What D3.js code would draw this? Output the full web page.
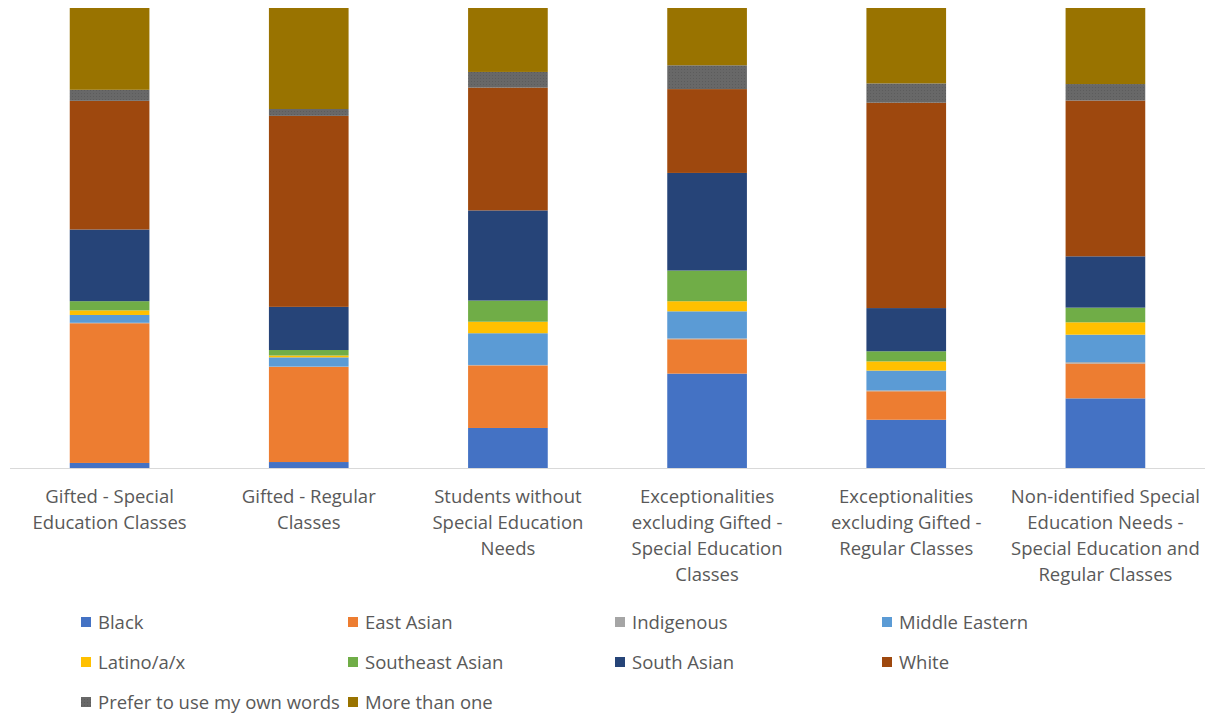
<!DOCTYPE html>
<html>
<head>
<meta charset="utf-8">
<script src="https://cdn.jsdelivr.net/npm/d3@7"></script>
<style>
  body { margin: 0; background: #fff; }
  svg { display: block; font-family: "Open Sans", "Noto Sans", sans-serif; }
</style>
</head>
<body>
<svg width="1220" height="716"></svg>
<script>
// categories (x axis)
const categories = [
  "Gifted - Special Education Classes",
  "Gifted - Regular Classes",
  "Students without Special Education Needs",
  "Exceptionalities excluding Gifted - Special Education Classes",
  "Exceptionalities excluding Gifted - Regular Classes",
  "Non-identified Special Education Needs - Special Education and Regular Classes"
];
// wrapped label lines, as shown under each column
const categoryLines = [
  ["Gifted - Special", "Education Classes"],
  ["Gifted - Regular", "Classes"],
  ["Students without", "Special Education", "Needs"],
  ["Exceptionalities", "excluding Gifted -", "Special Education", "Classes"],
  ["Exceptionalities", "excluding Gifted -", "Regular Classes"],
  ["Non-identified Special", "Education Needs -", "Special Education and", "Regular Classes"]
];

const seriesNames = ["Black", "East Asian", "Indigenous", "Middle Eastern", "Latino/a/x",
  "Southeast Asian", "South Asian", "White", "Prefer to use my own words", "More than one"];
const seriesColors = ["#4472C4", "#ED7D31", "#A5A5A5", "#5B9BD5", "#FFC000",
  "#70AD47", "#264478", "#9E480E", "#666666", "#997300"];

// percentages per series, one value per category
const black        = [1.1, 1.3, 8.7, 20.6, 10.5, 15.2];
const eastAsian    = [30.4, 20.7, 13.6, 7.5, 6.2, 7.6];
const indigenous   = [0.1, 0.1, 0.1, 0.2, 0.2, 0.3];
const middleEast   = [1.7, 2.0, 6.9, 5.9, 4.3, 6.0];
const latino       = [1.0, 0.4, 2.5, 2.2, 2.0, 2.7];
const southeast    = [2.0, 1.2, 4.6, 6.7, 2.2, 3.2];
const southAsian   = [15.6, 9.4, 19.6, 21.3, 9.4, 11.2];
const white        = [28.0, 41.6, 26.7, 18.3, 44.7, 34.0];
const ownWords     = [2.4, 1.5, 3.4, 5.2, 4.2, 3.6];
const moreThanOne  = [17.8, 22.0, 13.9, 12.5, 16.4, 16.6];

const seriesValues = [black, eastAsian, indigenous, middleEast, latino,
  southeast, southAsian, white, ownWords, moreThanOne];

const svg = d3.select("svg");

const margin = { top: 8, left: 10, right: 15 };
const plotBottom = 468;
const width = 1220 - margin.left - margin.right;

const rows = categories.map((c, i) => {
  const r = { category: c };
  seriesNames.forEach((s, j) => { r[s] = seriesValues[j][i]; });
  return r;
});

const stacked = d3.stack()
  .keys(seriesNames)
  .offset(d3.stackOffsetExpand)(rows);

const x = d3.scaleBand()
  .domain(categories)
  .range([margin.left, margin.left + width])
  .paddingInner(0.6)
  .paddingOuter(0.3);

const y = d3.scaleLinear()
  .domain([0, 1])
  .range([plotBottom, margin.top]);

const color = d3.scaleOrdinal().domain(seriesNames).range(seriesColors);

// dotted texture for "Prefer to use my own words"
const defs = svg.append("defs");
const pat = defs.append("pattern")
  .attr("id", "dots")
  .attr("width", 3).attr("height", 3)
  .attr("patternUnits", "userSpaceOnUse");
pat.append("rect").attr("width", 3).attr("height", 3).attr("fill", "#686868");
pat.append("rect").attr("width", 1).attr("height", 1).attr("fill", "#5c5c5c");

const fillFor = k => k === "Prefer to use my own words" ? "url(#dots)" : color(k);

svg.append("g")
  .selectAll("g")
  .data(stacked)
  .join("g")
  .attr("fill", d => fillFor(d.key))
  .selectAll("rect")
  .data(d => d)
  .join("rect")
  .attr("x", d => x(d.data.category))
  .attr("y", d => y(d[1]))
  .attr("width", x.bandwidth())
  .attr("height", d => y(d[0]) - y(d[1]));

// x axis line
svg.append("line")
  .attr("x1", margin.left).attr("x2", margin.left + width)
  .attr("y1", plotBottom + 0.5).attr("y2", plotBottom + 0.5)
  .attr("stroke", "#d9d9d9").attr("stroke-width", 1);

// category labels
const labels = svg.append("g")
  .attr("fill", "#595959")
  .attr("font-size", 18.5)
  .attr("text-anchor", "middle");

categories.forEach((c, i) => {
  const t = labels.append("text")
    .attr("x", x(c) + x.bandwidth() / 2)
    .attr("y", 503);
  categoryLines[i].forEach((line, k) => {
    t.append("tspan")
      .attr("x", x(c) + x.bandwidth() / 2)
      .attr("dy", k === 0 ? 0 : 26)
      .text(line);
  });
});

// legend
const legend = svg.append("g")
  .attr("font-size", 18.5)
  .attr("fill", "#595959");

seriesNames.forEach((s, i) => {
  const col = i % 4, row = Math.floor(i / 4);
  const gx = 81 + col * 267, gy = 622 + row * 40;
  const item = legend.append("g").attr("transform", `translate(${gx},${gy})`);
  item.append("rect")
    .attr("x", 0).attr("y", -5)
    .attr("width", 10).attr("height", 10)
    .attr("fill", fillFor(s));
  item.append("text")
    .attr("x", 17).attr("y", 6.5)
    .text(s);
});
</script>
</body>
</html>
